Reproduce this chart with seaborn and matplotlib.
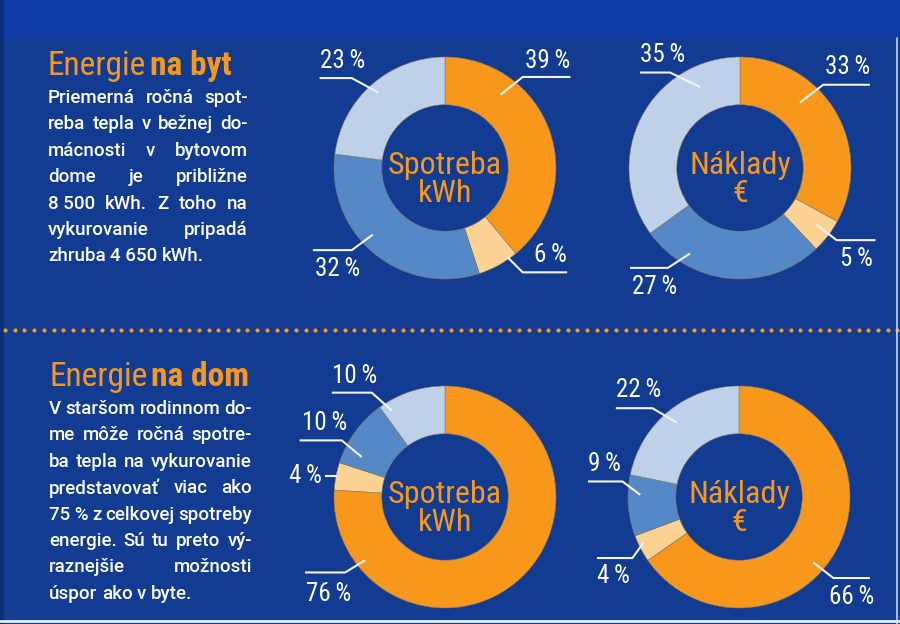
import numpy as np
import seaborn as sns
import matplotlib.pyplot as plt
from matplotlib import font_manager
from matplotlib.patches import Rectangle

# --- data (shares in %, slice order: orange, light orange, blue, light blue)
byt_spotreba = [39, 6, 32, 23]
byt_naklady = [33, 5, 27, 35]
dom_spotreba = [76, 4, 10, 10]
dom_naklady = [66, 4, 9, 22]

center_spotreba = "Spotreba\nkWh"
center_naklady = "Náklady\n€"

title_byt = ["Energie", "na byt"]
title_dom = ["Energie", "na dom"]
text_byt = ["Priemerná ročná spot-",
            "reba tepla v bežnej do-",
            "mácnosti v bytovom",
            "dome je približne",
            "8\u00a0500 kWh. Z toho na",
            "vykurovanie pripadá",
            "zhruba 4\u00a0650 kWh."]
text_dom = ["V staršom rodinnom do-",
            "me môže ročná spotre-",
            "ba tepla na vykurovanie",
            "predstavovať viac ako",
            "75\u00a0% z celkovej spotreby",
            "energie. Sú tu preto vý-",
            "raznejšie možnosti",
            "úspor ako v byte."]

# --- style
BG = "#123b92"
TOP = "#0f3ca4"
ORANGE = "#f7981d"
palette = sns.color_palette(["#f7981d", "#fdd394", "#5588c7", "#bfd1e8"])

sns.set_theme(style="white")
names = {f.name for f in font_manager.fontManager.ttflist}
FONT = next(f for f in ["Roboto Condensed", "Liberation Sans Narrow", "DejaVu Sans"] if f in names)
BODY = next(f for f in ["Roboto", "Open Sans", "DejaVu Sans"] if f in names)
plt.rcParams["font.family"] = [FONT, "DejaVu Sans"]

# leader layout per donut: (anchor, elbow, end, text pos, ha, va) in radius units
lay_byt_s = [((0.50, 0.66), (0.70, 0.82), (1.13, 0.82), (1.13, 0.86), "right", "bottom"),
             ((0.56, -0.80), (0.70, -0.94), (1.10, -0.94), (1.10, -0.89), "right", "bottom"),
             ((-0.65, -0.60), (-0.84, -0.74), (-1.19, -0.74), (-1.17, -0.80), "left", "top"),
             ((-0.60, 0.68), (-0.84, 0.81), (-1.13, 0.81), (-1.13, 0.86), "left", "bottom")]
lay_byt_n = [((0.54, 0.59), (0.75, 0.75), (1.17, 0.75), (1.17, 0.80), "right", "bottom"),
             ((0.69, -0.51), (0.87, -0.65), (1.22, -0.65), (1.20, -0.71), "right", "top"),
             ((-0.45, -0.77), (-0.65, -0.90), (-0.99, -0.90), (-0.97, -0.96), "left", "top"),
             ((-0.36, 0.73), (-0.63, 0.86), (-0.90, 0.86), (-0.90, 0.91), "left", "bottom")]
lay_dom_s = [((-0.72, -0.57), (-0.90, -0.68), (-1.26, -0.68), (-1.25, -0.77), "left", "top"),
             ((-0.97, 0.19), (-1.08, 0.19), (-1.08, 0.19), (-1.11, 0.19), "right", "center"),
             ((-0.75, 0.36), (-0.93, 0.51), (-1.31, 0.51), (-1.29, 0.56), "left", "bottom"),
             ((-0.48, 0.78), (-0.66, 0.94), (-1.02, 0.94), (-1.02, 0.98), "left", "bottom")]
lay_dom_n = [((0.67, -0.59), (0.85, -0.73), (1.18, -0.73), (1.22, -0.79), "right", "top"),
             ((-0.86, -0.41), (-0.96, -0.55), (-1.28, -0.55), (-1.28, -0.60), "left", "top"),
             ((-0.89, 0.02), (-1.05, 0.14), (-1.36, 0.14), (-1.36, 0.19), "left", "bottom"),
             ((-0.56, 0.67), (-0.78, 0.80), (-1.11, 0.80), (-1.11, 0.86), "left", "bottom")]

W, H, U, L = 900, 624, 111, 1.45

fig = plt.figure(figsize=(9, 6.24), dpi=100, facecolor=BG)
bg = fig.add_axes([0, 0, 1, 1])
bg.set_xlim(0, W)
bg.set_ylim(H, 0)
bg.axis("off")
bg.add_patch(Rectangle((0, 0), W, 38, color=TOP, lw=0))
bg.add_patch(Rectangle((0, 0), 4, H, color="#0a2f78", lw=0))
bg.plot([897, 897], [38, H], color="#c8d4ea", lw=1.2)
bg.plot([0, W], [621, 621], color="#e8ecf4", lw=2)
dots = np.arange(5, W, 9.7)
bg.scatter(dots, np.full(len(dots), 330), s=9, color=ORANGE, lw=0)

rend = fig.canvas.get_renderer()


def title(parts, x, y):
    t = bg.text(x, y, parts[0], color=ORANGE, fontsize=24, va="baseline")
    w = t.get_window_extent(rend).width
    bg.text(x + w + 4, y, parts[1], color=ORANGE, fontsize=24, weight="bold", va="baseline")


def justified(lines, x0, x1, y0, step):
    for i, line in enumerate(lines):
        y = y0 + i * step
        words = line.split(" ")
        ts = [bg.text(0, y, w, color="white", fontsize=13.5, va="center",
                      family=[BODY, "DejaVu Sans"], weight="medium") for w in words]
        ws = [t.get_window_extent(rend).width for t in ts]
        if i < len(lines) - 1 and len(words) > 1:
            gap = (x1 - x0 - sum(ws)) / (len(words) - 1)
        else:
            gap = 4.5
        x = x0
        for t, w in zip(ts, ws):
            t.set_x(x)
            x += w + gap


title(title_byt, 48, 75)
justified(text_byt, 48, 248, 98, 26.4)
title(title_dom, 49, 386)
justified(text_dom, 49, 252, 409, 26.4)


def donut(values, center, cx, cy, layout):
    ax = fig.add_axes([(cx - L * U) / W, (H - cy - L * U) / H, 2 * L * U / W, 2 * L * U / H])
    ax.pie(values, colors=palette, startangle=90, counterclock=False, radius=1,
           wedgeprops=dict(width=0.43, edgecolor="#8a7a60", linewidth=0.4))
    ax.set_xlim(-L, L)
    ax.set_ylim(-L, L)
    ax.set_aspect("equal")
    ax.axis("off")
    ax.text(0, -0.1, center, color=ORANGE, fontsize=23, ha="center", va="center",
            linespacing=0.95)
    for v, (a, e, n, tp, ha, va) in zip(values, layout):
        ax.plot([a[0], e[0], n[0]], [a[1], e[1], n[1]], color="#f2f2f2", lw=1.5,
                clip_on=False, solid_capstyle="butt")
        ax.text(tp[0], tp[1], f"{v}\u2009%", color="white", fontsize=18, ha=ha, va=va,
                clip_on=False)


donut(byt_spotreba, center_spotreba, 445, 168, lay_byt_s)
donut(byt_naklady, center_naklady, 740, 168, lay_byt_n)
donut(dom_spotreba, center_spotreba, 445, 497, lay_dom_s)
donut(dom_naklady, center_naklady, 739, 497, lay_dom_n)

fig.savefig("out.png", dpi=100, facecolor=BG)
